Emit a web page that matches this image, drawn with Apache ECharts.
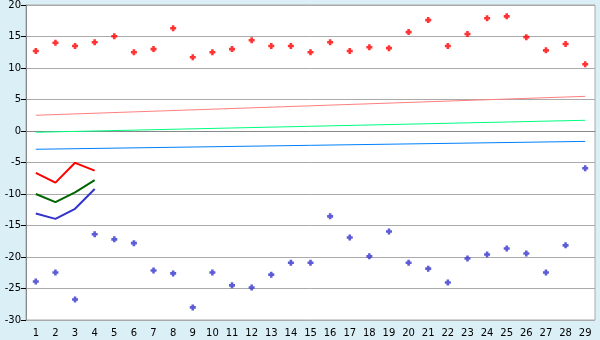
<!DOCTYPE html>
<html><head><meta charset="utf-8">
<script src="https://cdn.jsdelivr.net/npm/echarts@6/dist/echarts.min.js"></script>
<style>html,body{margin:0;padding:0;background:#daeff6;}#c{width:600px;height:340px;}</style>
</head><body><div id="c"></div>
<script>
const categories = ['1','2','3','4','5','6','7','8','9','10','11','12','13','14','15','16','17','18','19','20','21','22','23','24','25','26','27','28','29'];
const redPoints = [12.7,14.0,13.5,14.1,15.05,12.5,13.0,16.3,11.7,12.5,13.0,14.4,13.5,13.5,12.5,14.1,12.7,13.3,13.15,15.7,17.6,13.5,15.4,17.9,18.2,14.9,12.8,13.8,10.6];
const bluePoints = [-23.9,-22.45,-26.75,-16.4,-17.2,-17.8,-22.15,-22.6,-28.0,-22.45,-24.5,-24.85,-22.8,-20.9,-20.9,-13.55,-16.9,-19.9,-15.95,-20.9,-21.85,-24.05,-20.25,-19.6,-18.65,-19.45,-22.45,-18.15,-5.9];
const redLine = [-6.65,-8.2,-5.05,-6.3];
const greenLine = [-10.0,-11.3,-9.75,-7.8];
const blueLine = [-13.1,-13.95,-12.35,-9.2];
const pinkTrend = [['1',2.5],['29',5.5]];
const greenTrend = [['1',-0.2],['29',1.7]];
const blueTrend = [['1',-2.9],['29',-1.65]];
const yTicks = {min:-30,max:20,interval:5};

const plus = 'path://M2,0h3v2h2v3h-2v2h-3v-2h-2v-3h2z';
const chart = echarts.init(document.getElementById('c'));
const font = 'DejaVu Sans';
chart.setOption({
  backgroundColor:'#daeff6',
  animation:false,
  grid:{left:26,top:5,right:5,bottom:20,show:true,backgroundColor:'#fff',borderColor:'#aaa',borderWidth:1},
  xAxis:{type:'category',data:categories,boundaryGap:true,
    axisLine:{lineStyle:{color:'#888'}},
    axisTick:{alignWithLabel:true,length:5,lineStyle:{color:'#000'}},
    axisLabel:{color:'#000',fontFamily:font,fontSize:10,margin:8,interval:0},
    splitLine:{show:false}},
  yAxis:{type:'value',min:yTicks.min,max:yTicks.max,interval:yTicks.interval,
    axisLine:{show:true,lineStyle:{color:'#888'}},
    axisTick:{show:true,length:5,lineStyle:{color:'#000'}},
    axisLabel:{color:'#000',fontFamily:font,fontSize:10,margin:5},
    splitLine:{lineStyle:{color:'#aaa',width:1}}},
  series:[
    {type:'line',data:pinkTrend,symbol:'none',lineStyle:{color:'#ff8080',width:1},silent:true},
    {type:'line',data:greenTrend,symbol:'none',lineStyle:{color:'#00ff80',width:1},silent:true},
    {type:'line',data:blueTrend,symbol:'none',lineStyle:{color:'#0080ff',width:1},silent:true},
    {type:'line',data:redLine,symbol:'none',lineStyle:{color:'#ff0000',width:2}},
    {type:'line',data:greenLine,symbol:'none',lineStyle:{color:'#006600',width:2}},
    {type:'line',data:blueLine,symbol:'none',lineStyle:{color:'#3333cc',width:2}},
    {type:'scatter',data:redPoints,symbol:plus,symbolSize:6,itemStyle:{color:'#ff0000'}},
    {type:'scatter',data:bluePoints,symbol:plus,symbolSize:6,itemStyle:{color:'#3333cc'}}
  ]
});
</script></body></html>
